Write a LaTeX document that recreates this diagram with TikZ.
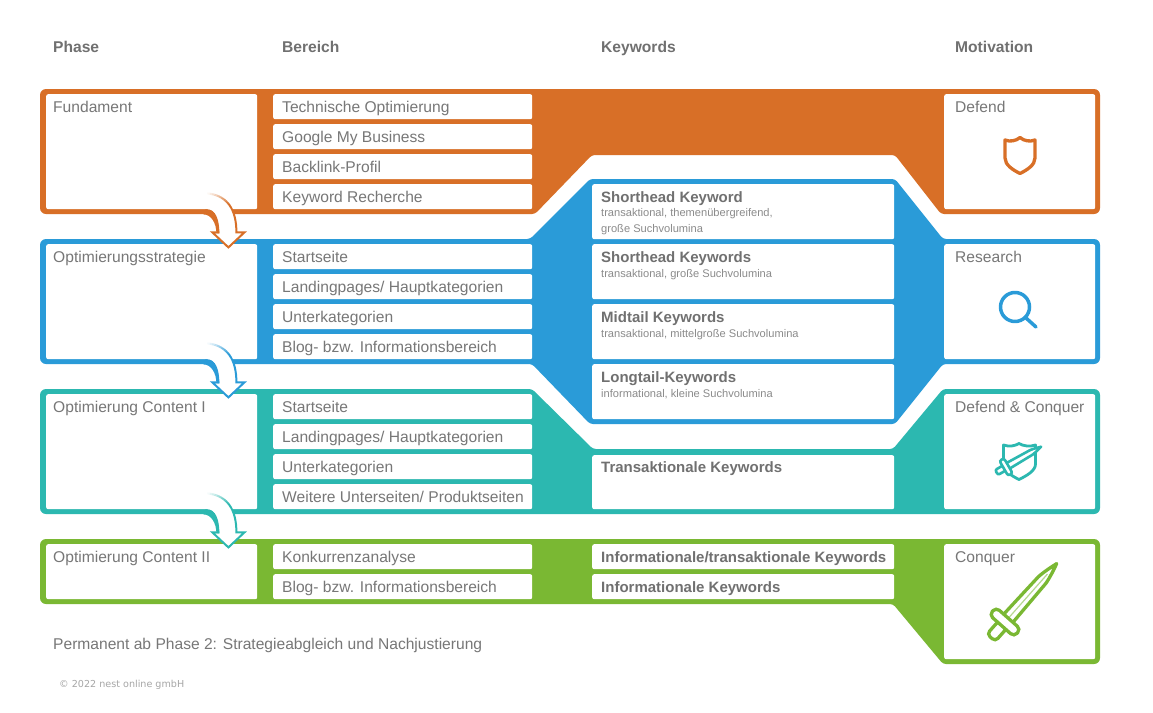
\documentclass[tikz,border=0pt]{standalone}
\usepackage{fontspec}
\setmainfont{Liberation Sans}
\newfontfamily\footfont{DejaVu Sans}
\usetikzlibrary{calc}
\definecolor{cOrange}{HTML}{D86F27}
\definecolor{cBlue}{HTML}{2A9BD8}
\definecolor{cTeal}{HTML}{2CB8B0}
\definecolor{cGreen}{HTML}{7AB833}
\definecolor{cText}{HTML}{777777}
\definecolor{cHead}{HTML}{707070}
\tikzset{
  cellbox/.style={fill=white,rounded corners=2pt,inner sep=0pt,anchor=north west},
  lbl/.style={anchor=base west,inner sep=0pt,text=cText,font=\fontsize{15.6}{18}\selectfont},
  kwlbl/.style={lbl,text=cHead,font=\fontsize{15}{18}\selectfont\bfseries},
  sublbl/.style={lbl,text=cText!85,font=\fontsize{11.1}{16}\selectfont},
  headlbl/.style={lbl,text=cHead,font=\fontsize{15.6}{18}\selectfont\bfseries},
  icon/.style={line width=3pt,line join=round,line cap=round},
}
% name, x1, y1, x2, y2
\newcommand{\cellnode}[5]{\node[cellbox,minimum width={(#4-#2)*1pt},minimum height={(#5-#3)*1pt}] (#1) at (#2,#3) {};}
% labelled cells: name x1 y1 x2 y2 text
\newcommand{\phcell}[6]{\cellnode{#1}{#2}{#3}{#4}{#5}\node[lbl] (#1t) at ($(#1.north west)+(7,18)$) {#6};}
\newcommand{\cell}[6]{\cellnode{#1}{#2}{#3}{#4}{#5}\node[lbl] (#1t) at ($(#1.north west)+(9,18)$) {#6};}
\newcommand{\mocell}[6]{\cellnode{#1}{#2}{#3}{#4}{#5}\node[lbl] (#1t) at ($(#1.north west)+(11,18)$) {#6};}
\newcommand{\kwcell}[6]{\cellnode{#1}{#2}{#3}{#4}{#5}\node[kwlbl] (#1t) at ($(#1.north west)+(9,18)$) {#6};}
% curved block arrow anchored at the phase box: colour, node
\newcommand{\flowarrow}[2]{%
  \begin{scope}[shift={(#2.south east)}]
    \fill[white] (-50,-16) .. controls (-30,-14) and (-21,0) .. (-21,23) -- (-13,23) -- (-29,38) -- (-45,23) -- (-38,23) .. controls (-38,10) and (-42,0) .. (-50,0) -- cycle;
    \fill[#1] (-52,0) -- (-50,0) .. controls (-42,0) and (-38,10) .. (-38,24) -- (-41,24) .. controls (-41,14) and (-46,5) .. (-54,5) -- cycle;
    \draw[#1,line width=2pt,line join=miter] (-28,-4.375) .. controls (-23.25,2.25) and (-21,11.5) .. (-21,23) -- (-13,23) -- (-29,38) -- (-45,23) -- (-38,23);
    \foreach \i in {0,...,11}{
      \pgfmathsetmacro{\ta}{\i/24}
      \pgfmathsetmacro{\tb}{(\i+1)/24}
      \pgfmathsetmacro{\xa}{(1-\ta)^3*(-50)+3*(1-\ta)^2*\ta*(-30)+3*(1-\ta)*\ta^2*(-21)+\ta^3*(-21)}
      \pgfmathsetmacro{\ya}{(1-\ta)^3*(-16)+3*(1-\ta)^2*\ta*(-14)+\ta^3*23}
      \pgfmathsetmacro{\xb}{(1-\tb)^3*(-50)+3*(1-\tb)^2*\tb*(-30)+3*(1-\tb)*\tb^2*(-21)+\tb^3*(-21)}
      \pgfmathsetmacro{\yb}{(1-\tb)^3*(-16)+3*(1-\tb)^2*\tb*(-14)+\tb^3*23}
      \pgfmathsetmacro{\pct}{5+\i*95/11}
      \draw[#1!\pct!white,line width=2pt] (\xa,\ya) -- (\xb,\yb);
    }
  \end{scope}}
% sword along +x: tip at x=78, pommel at x=-22, guard at 0
% colour, line width, extra drawing, handle radius, guard radius
\newcommand{\swordshape}[5]{%
  \draw[#1,line width=#2,line join=round,fill=white] (3,-6.2) -- (56,-5) .. controls (64,-4) and (71,-2) .. (78,0) .. controls (71,2) and (64,4) .. (56,5) -- (3,6.2) -- cycle;
  #3
  \draw[#1,line width=#2,fill=white,rounded corners=#4] (-21,-5.5) rectangle (-3,5.5);
  \draw[#1,line width=#2,fill=white,rounded corners=#5] (-5,-16.5) rectangle (5,16.5);
}
\begin{document}
\begin{tikzpicture}[x=1pt,y=-1pt]
\useasboundingbox[fill=white] (0,0) rectangle (1153,712);

% bands
\fill[cOrange,rounded corners=6pt] (40,89) -- (1100,89) -- (1100,214) [rounded corners=3pt] -- (941,214) -- (895,155) -- (592,155) -- (535,214) [rounded corners=6pt] -- (40,214) -- cycle;
\fill[cBlue,rounded corners=6pt] (40,239) [rounded corners=3pt] -- (530,239) -- (590,179) -- (895,179) -- (943,239) [rounded corners=6pt] -- (1100,239) -- (1100,364) [rounded corners=3pt] -- (943,364) -- (895,424) -- (590,424) -- (532,364) [rounded corners=6pt] -- (40,364) -- cycle;
\fill[cTeal,rounded corners=6pt] (40,389) [rounded corners=3pt] -- (532,389) -- (593,449) -- (893,449) -- (943,389) [rounded corners=6pt] -- (1100,389) -- (1100,514) -- (40,514) -- cycle;
\fill[cGreen,rounded corners=6pt] (40,539) -- (1100,539) -- (1100,664) [rounded corners=3pt] -- (943,664) -- (893,604) [rounded corners=6pt] -- (40,604) -- cycle;

% headers
\node[headlbl] (hPhase) at (53,52) {Phase};
\node[headlbl] (hBereich) at (282,52) {Bereich};
\node[headlbl] (hKeywords) at (601,52) {Keywords};
\node[headlbl] (hMotivation) at (955,52) {Motivation};

% phase column
\phcell{ph1}{46}{94}{257}{209}{Fundament}
\phcell{ph2}{46}{244}{257}{359}{Optimierungsstrategie}
\phcell{ph3}{46}{394}{257}{509}{Optimierung Content I}
\phcell{ph4}{46}{544}{257}{599}{Optimierung Content II}

% Bereich column
\cell{a1}{273}{94}{532}{119}{Technische Optimierung}
\cell{a2}{273}{124}{532}{149}{Google My Business}
\cell{a3}{273}{154}{532}{179}{Backlink-Profil}
\cell{a4}{273}{184}{532}{209}{Keyword Recherche}
\cell{b1}{273}{244}{532}{269}{Startseite}
\cell{b2}{273}{274}{532}{299}{Landingpages/ Hauptkategorien}
\cell{b3}{273}{304}{532}{329}{Unterkategorien}
\cell{b4}{273}{334}{532}{359}{Blog- bzw. Informationsbereich}
\cell{c1}{273}{394}{532}{419}{Startseite}
\cell{c2}{273}{424}{532}{449}{Landingpages/ Hauptkategorien}
\cell{c3}{273}{454}{532}{479}{Unterkategorien}
\cell{c4}{273}{484}{532}{509}{Weitere Unterseiten/ Produktseiten}
\cell{d1}{273}{544}{532}{569}{Konkurrenzanalyse}
\cell{d2}{273}{574}{532}{599}{Blog- bzw. Informationsbereich}

% Keywords column
\kwcell{k1}{592}{184}{894}{239}{Shorthead Keyword}
\node[sublbl,anchor=north west,align=left] (k1s) at (601,208.5) {transaktional, themenübergreifend,\\große Suchvolumina};
\kwcell{k2}{592}{244}{894}{299}{Shorthead Keywords}
\node[sublbl] (k2s) at (601,277) {transaktional, große Suchvolumina};
\kwcell{k3}{592}{304}{894}{359}{Midtail Keywords}
\node[sublbl] (k3s) at (601,337) {transaktional, mittelgroße Suchvolumina};
\kwcell{k4}{592}{364}{894}{419}{Longtail-Keywords}
\node[sublbl] (k4s) at (601,397) {informational, kleine Suchvolumina};
\cellnode{k5}{592}{455}{894}{509}
\node[kwlbl] (k5t) at ($(k5.north west)+(9,17)$) {Transaktionale Keywords};
\kwcell{k6}{592}{544}{894}{569}{Informationale/transaktionale Keywords}
\kwcell{k7}{592}{574}{894}{599}{Informationale Keywords}

% Motivation column
\mocell{m1}{944}{94}{1095}{209}{Defend}
\mocell{m2}{944}{244}{1095}{359}{Research}
\mocell{m3}{944}{394}{1095}{509}{Defend \& Conquer}
\mocell{m4}{944}{544}{1095}{659}{Conquer}

% icons
\draw[cOrange,icon,line width=3.3pt] (1005,140) .. controls (1010,142) and (1016,141) .. (1020,137.5) .. controls (1024,141) and (1030,142) .. (1035,140) -- (1035,158) .. controls (1035,165) and (1027,170) .. (1020,173.5) .. controls (1013,170) and (1005,165) .. (1005,158) -- cycle;
\draw[cBlue,icon,line width=3.5pt] (1015,307) circle (14.5);
\draw[cBlue,icon,line width=3.5pt] (1026,318) -- (1036,327);
\draw[cTeal,icon,line width=2.8pt] (1003.5,445) .. controls (1009,447) and (1015,446) .. (1019,443.5) .. controls (1023,446) and (1030,447) .. (1035.5,445) -- (1035.5,464) .. controls (1035.5,471) and (1026,476) .. (1019,479.5) .. controls (1012,476) and (1003.5,471) .. (1003.5,464) -- cycle;
\begin{scope}[shift={(1006,467)},rotate=30,scale=.52]
  \swordshape{cTeal}{2.6pt}{}{2pt}{2.2pt}
\end{scope}
\begin{scope}[shift={(1005,622)},rotate=48.5]
  \swordshape{cGreen}{3.3pt}{\draw[cGreen!55!white,line width=1.2pt] (5,0) -- (64,0);}{4pt}{4.5pt}
\end{scope}

% arrows
\flowarrow{cOrange}{ph1}
\flowarrow{cBlue}{ph2}
\flowarrow{cTeal}{ph3}

% footer
\node[lbl] (note) at (53,649) {Permanent ab Phase 2: Strategieabgleich und Nachjustierung};
\node[lbl,text=black!35,font=\footfont\fontsize{9.6}{12}\selectfont] (copy) at (59,687) {© 2022 nest online gmbH};
\end{tikzpicture}
\end{document}
